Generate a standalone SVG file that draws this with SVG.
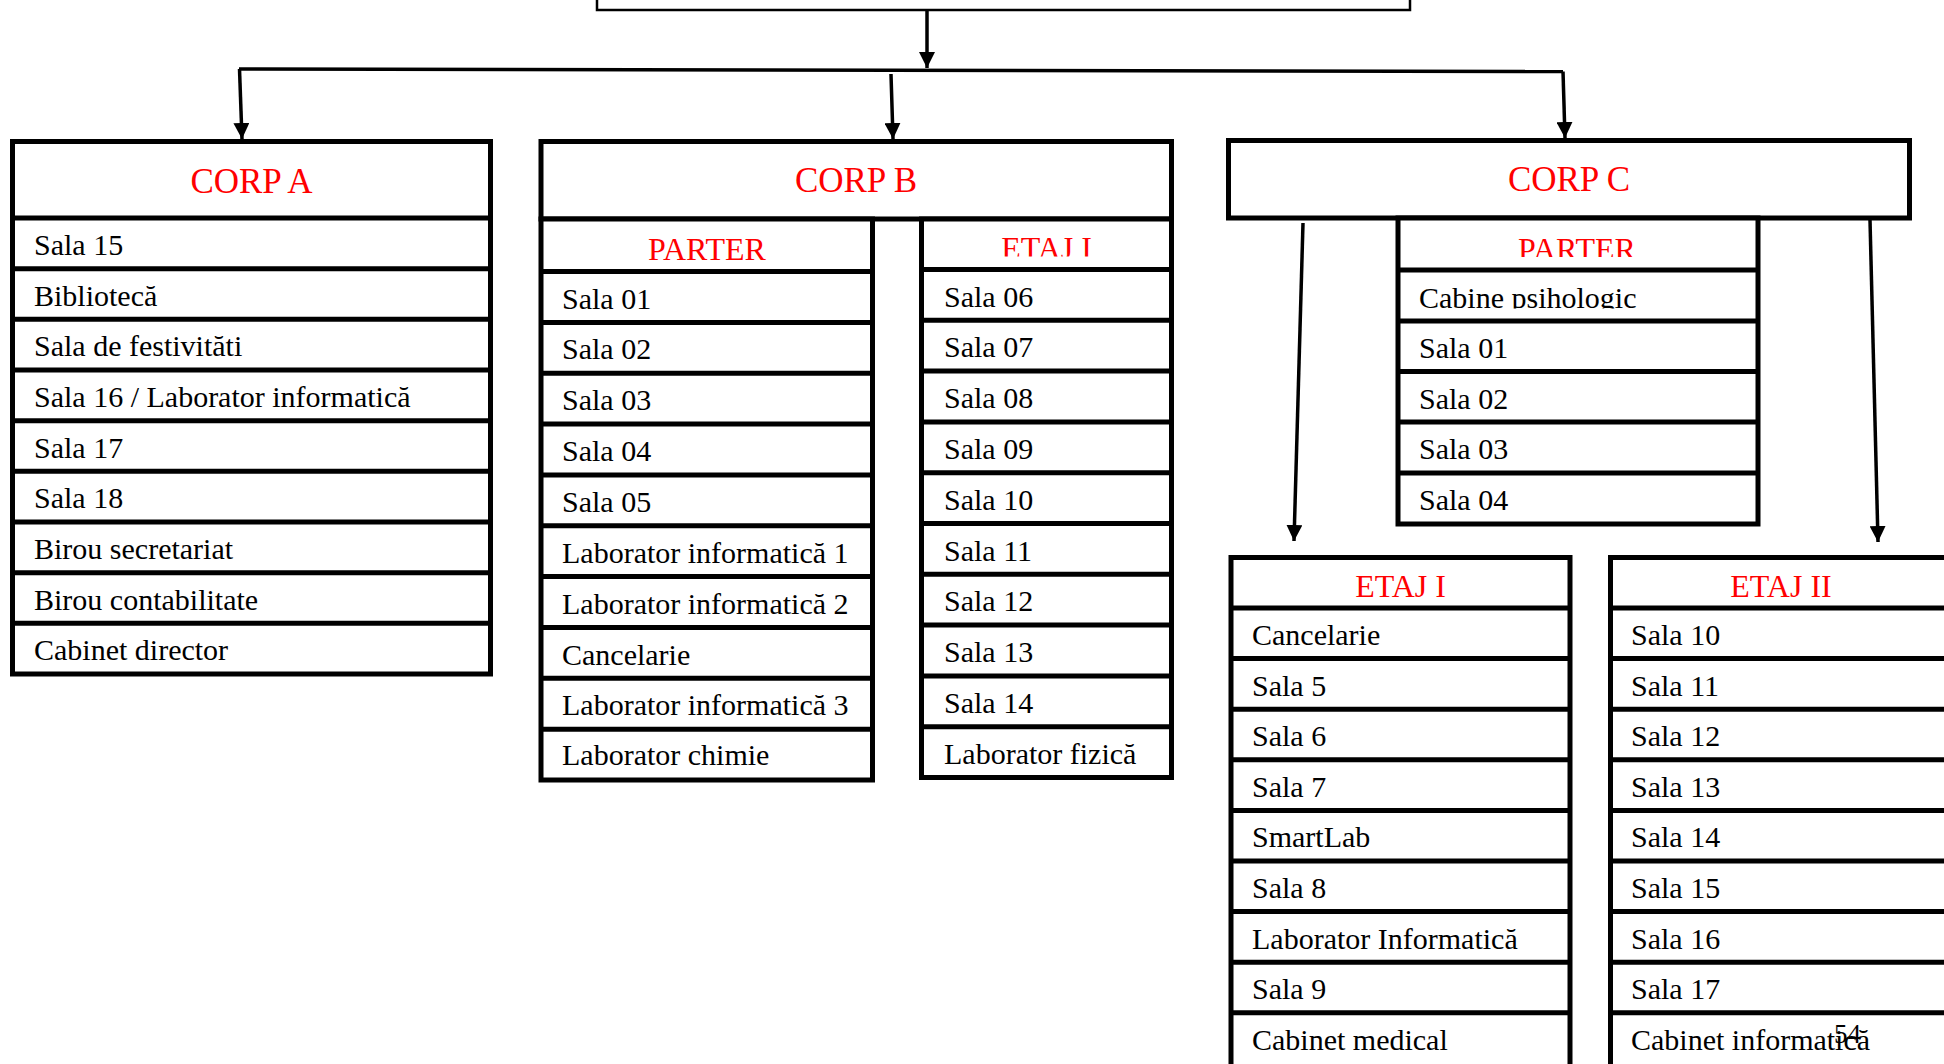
<svg xmlns="http://www.w3.org/2000/svg" width="1944" height="1064" viewBox="0 0 1944 1064">
<style>
.box{fill:#fff;stroke:#000;stroke-width:5}
.sep{stroke:#000;stroke-width:5}
.t{font-family:"Liberation Serif","Times New Roman",serif;font-size:30px;fill:#000}
.h{font-family:"Liberation Serif","Times New Roman",serif;font-size:35px;fill:#f00;text-anchor:middle}
.sh{font-family:"Liberation Serif","Times New Roman",serif;font-size:32px;fill:#f00;text-anchor:middle}
.conn{stroke:#000;stroke-width:3.5;fill:none}
</style>
<defs>
<marker id="arr" viewBox="0 0 16 16" markerWidth="16" markerHeight="16" refX="16" refY="8" orient="auto" markerUnits="userSpaceOnUse">
<path d="M0,0 L16,8 L0,16 z" fill="#000"/>
</marker>
<clipPath id="clipBE1"><rect x="921" y="219" width="250" height="37.5"/></clipPath>
<clipPath id="clipCP"><rect x="1398" y="218" width="360" height="39"/></clipPath>
<clipPath id="clipCab"><rect x="1398" y="270" width="360" height="38.5"/></clipPath>
</defs>
<rect width="1944" height="1064" fill="#fff"/>

<g id="top">
<rect x="597" y="-30" width="813" height="40" fill="#fff" stroke="#000" stroke-width="2.5"/>
</g>

<g id="connectors">
<path class="conn" d="M927,10 L927,68" stroke-width="4" marker-end="url(#arr)"/>
<path class="conn" d="M239,69 L1563,71.5"/>
<path class="conn" d="M239.5,69 L242,139" marker-end="url(#arr)"/>
<path class="conn" d="M891,74 L893,139" marker-end="url(#arr)"/>
<path class="conn" d="M1563,71.5 L1565,138" marker-end="url(#arr)"/>
<path class="conn" d="M1303,223 L1294,541" marker-end="url(#arr)"/>
<path class="conn" d="M1870,220 L1878,542" marker-end="url(#arr)"/>
</g>

<g id="corpA">
<rect class="box" x="12.5" y="141.5" width="478" height="532.5"/>
<line class="sep" x1="12.5" y1="218" x2="490.5" y2="218"/>
<line class="sep" x1="12.5" y1="268.7" x2="490.5" y2="268.7"/>
<line class="sep" x1="12.5" y1="319.3" x2="490.5" y2="319.3"/>
<line class="sep" x1="12.5" y1="370" x2="490.5" y2="370"/>
<line class="sep" x1="12.5" y1="420.7" x2="490.5" y2="420.7"/>
<line class="sep" x1="12.5" y1="471.3" x2="490.5" y2="471.3"/>
<line class="sep" x1="12.5" y1="522" x2="490.5" y2="522"/>
<line class="sep" x1="12.5" y1="572.7" x2="490.5" y2="572.7"/>
<line class="sep" x1="12.5" y1="623.3" x2="490.5" y2="623.3"/>
<text class="h" x="251.5" y="193">CORP A</text>
<text class="t" x="34" y="255">Sala 15</text>
<text class="t" x="34" y="305.7">Bibliotecă</text>
<text class="t" x="34" y="356.3">Sala de festivităti</text>
<text class="t" x="34" y="407">Sala 16 / Laborator informatică</text>
<text class="t" x="34" y="457.7">Sala 17</text>
<text class="t" x="34" y="508.3">Sala 18</text>
<text class="t" x="34" y="559">Birou secretariat</text>
<text class="t" x="34" y="609.7">Birou contabilitate</text>
<text class="t" x="34" y="660.3">Cabinet director</text>
</g>

<g id="corpB">
<rect class="box" x="541" y="141.5" width="630.5" height="77.5"/>
<text class="h" x="856" y="192">CORP B</text>
</g>

<g id="corpB-parter">
<rect class="box" x="541" y="219" width="331.5" height="561"/>
<line class="sep" x1="541" y1="271.5" x2="872.5" y2="271.5"/>
<line class="sep" x1="541" y1="322.4" x2="872.5" y2="322.4"/>
<line class="sep" x1="541" y1="373.2" x2="872.5" y2="373.2"/>
<line class="sep" x1="541" y1="424" x2="872.5" y2="424"/>
<line class="sep" x1="541" y1="474.9" x2="872.5" y2="474.9"/>
<line class="sep" x1="541" y1="525.8" x2="872.5" y2="525.8"/>
<line class="sep" x1="541" y1="576.6" x2="872.5" y2="576.6"/>
<line class="sep" x1="541" y1="627.4" x2="872.5" y2="627.4"/>
<line class="sep" x1="541" y1="678.3" x2="872.5" y2="678.3"/>
<line class="sep" x1="541" y1="729.2" x2="872.5" y2="729.2"/>
<text class="sh" x="707" y="260">PARTER</text>
<text class="t" x="562" y="308.5">Sala 01</text>
<text class="t" x="562" y="359.4">Sala 02</text>
<text class="t" x="562" y="410.2">Sala 03</text>
<text class="t" x="562" y="461">Sala 04</text>
<text class="t" x="562" y="511.9">Sala 05</text>
<text class="t" x="562" y="562.8">Laborator informatică 1</text>
<text class="t" x="562" y="613.6">Laborator informatică 2</text>
<text class="t" x="562" y="664.5">Cancelarie</text>
<text class="t" x="562" y="715.3">Laborator informatică 3</text>
<text class="t" x="562" y="765">Laborator chimie</text>
</g>

<g id="corpB-etaj1">
<rect class="box" x="921.5" y="219" width="250" height="558.5"/>
<line class="sep" x1="921.5" y1="269.5" x2="1171.5" y2="269.5"/>
<line class="sep" x1="921.5" y1="320.3" x2="1171.5" y2="320.3"/>
<line class="sep" x1="921.5" y1="371.1" x2="1171.5" y2="371.1"/>
<line class="sep" x1="921.5" y1="421.9" x2="1171.5" y2="421.9"/>
<line class="sep" x1="921.5" y1="472.7" x2="1171.5" y2="472.7"/>
<line class="sep" x1="921.5" y1="523.5" x2="1171.5" y2="523.5"/>
<line class="sep" x1="921.5" y1="574.3" x2="1171.5" y2="574.3"/>
<line class="sep" x1="921.5" y1="625.1" x2="1171.5" y2="625.1"/>
<line class="sep" x1="921.5" y1="675.9" x2="1171.5" y2="675.9"/>
<line class="sep" x1="921.5" y1="726.7" x2="1171.5" y2="726.7"/>
<text class="sh" x="1046.5" y="259" clip-path="url(#clipBE1)">ETAJ I</text>
<text class="t" x="944" y="306.5">Sala 06</text>
<text class="t" x="944" y="357.3">Sala 07</text>
<text class="t" x="944" y="408.1">Sala 08</text>
<text class="t" x="944" y="458.9">Sala 09</text>
<text class="t" x="944" y="509.7">Sala 10</text>
<text class="t" x="944" y="560.5">Sala 11</text>
<text class="t" x="944" y="611.3">Sala 12</text>
<text class="t" x="944" y="662.1">Sala 13</text>
<text class="t" x="944" y="712.9">Sala 14</text>
<text class="t" x="944" y="763.7">Laborator fizică</text>
</g>

<g id="corpC">
<rect class="box" x="1228.5" y="140.5" width="681" height="77.5"/>
<text class="h" x="1569" y="191">CORP C</text>
</g>

<g id="corpC-parter">
<rect class="box" x="1398" y="218" width="360" height="306"/>
<line class="sep" x1="1398" y1="270" x2="1758" y2="270"/>
<line class="sep" x1="1398" y1="321" x2="1758" y2="321"/>
<line class="sep" x1="1398" y1="371.5" x2="1758" y2="371.5"/>
<line class="sep" x1="1398" y1="422" x2="1758" y2="422"/>
<line class="sep" x1="1398" y1="473" x2="1758" y2="473"/>
<text class="sh" x="1577" y="260" clip-path="url(#clipCP)">PARTER</text>
<text class="t" x="1419" y="307.5" clip-path="url(#clipCab)">Cabine psihologic</text>
<text class="t" x="1419" y="358">Sala 01</text>
<text class="t" x="1419" y="408.5">Sala 02</text>
<text class="t" x="1419" y="459">Sala 03</text>
<text class="t" x="1419" y="510">Sala 04</text>
</g>

<g id="corpC-etaj1">
<rect class="box" x="1231" y="557.5" width="339" height="512.5"/>
<line class="sep" x1="1231" y1="608" x2="1570" y2="608"/>
<line class="sep" x1="1231" y1="658.6" x2="1570" y2="658.6"/>
<line class="sep" x1="1231" y1="709.2" x2="1570" y2="709.2"/>
<line class="sep" x1="1231" y1="759.8" x2="1570" y2="759.8"/>
<line class="sep" x1="1231" y1="810.4" x2="1570" y2="810.4"/>
<line class="sep" x1="1231" y1="861" x2="1570" y2="861"/>
<line class="sep" x1="1231" y1="911.6" x2="1570" y2="911.6"/>
<line class="sep" x1="1231" y1="962.2" x2="1570" y2="962.2"/>
<line class="sep" x1="1231" y1="1012.8" x2="1570" y2="1012.8"/>
<text class="sh" x="1400.5" y="597">ETAJ I</text>
<text class="t" x="1252" y="645">Cancelarie</text>
<text class="t" x="1252" y="695.6">Sala 5</text>
<text class="t" x="1252" y="746.2">Sala 6</text>
<text class="t" x="1252" y="796.8">Sala 7</text>
<text class="t" x="1252" y="847.4">SmartLab</text>
<text class="t" x="1252" y="898">Sala 8</text>
<text class="t" x="1252" y="948.6">Laborator Informatică</text>
<text class="t" x="1252" y="999.2">Sala 9</text>
<text class="t" x="1252" y="1049.8">Cabinet medical</text>
</g>

<g id="corpC-etaj2">
<rect class="box" x="1610.5" y="557.5" width="341.5" height="512.5"/>
<line class="sep" x1="1610.5" y1="608" x2="1952" y2="608"/>
<line class="sep" x1="1610.5" y1="658.6" x2="1952" y2="658.6"/>
<line class="sep" x1="1610.5" y1="709.2" x2="1952" y2="709.2"/>
<line class="sep" x1="1610.5" y1="759.8" x2="1952" y2="759.8"/>
<line class="sep" x1="1610.5" y1="810.4" x2="1952" y2="810.4"/>
<line class="sep" x1="1610.5" y1="861" x2="1952" y2="861"/>
<line class="sep" x1="1610.5" y1="911.6" x2="1952" y2="911.6"/>
<line class="sep" x1="1610.5" y1="962.2" x2="1952" y2="962.2"/>
<line class="sep" x1="1610.5" y1="1012.8" x2="1952" y2="1012.8"/>
<text class="sh" x="1781" y="597">ETAJ II</text>
<text class="t" x="1631" y="645">Sala 10</text>
<text class="t" x="1631" y="695.6">Sala 11</text>
<text class="t" x="1631" y="746.2">Sala 12</text>
<text class="t" x="1631" y="796.8">Sala 13</text>
<text class="t" x="1631" y="847.4">Sala 14</text>
<text class="t" x="1631" y="898">Sala 15</text>
<text class="t" x="1631" y="948.6">Sala 16</text>
<text class="t" x="1631" y="999.2">Sala 17</text>
<text class="t" x="1631" y="1049.8">Cabinet informatică</text>
</g>

<g id="page-number">
<text class="t" x="1834" y="1043" style="font-size:27px">54</text>
</g>
</svg>
